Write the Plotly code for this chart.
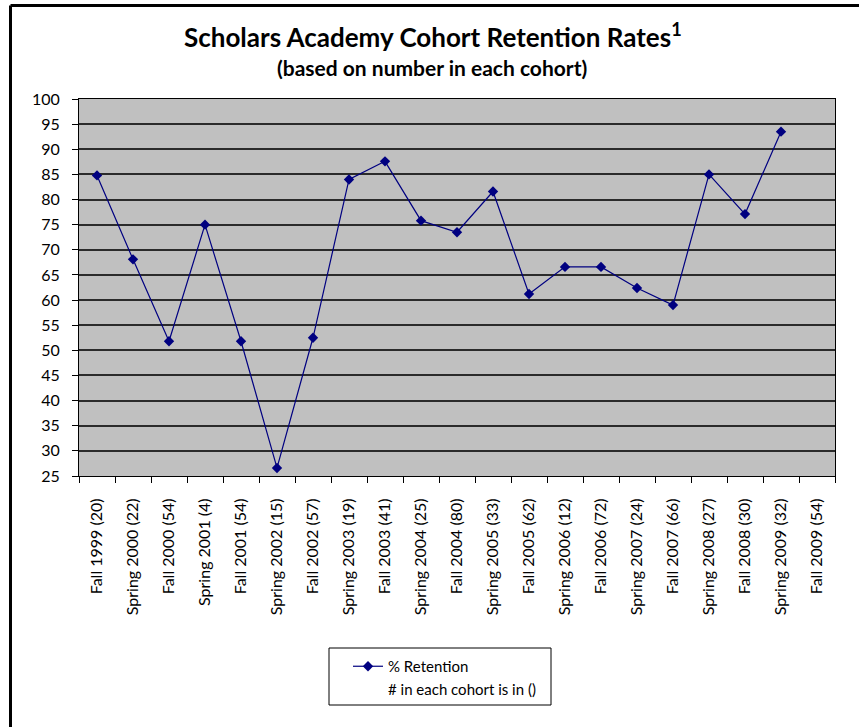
import plotly.graph_objects as go

categories = ["Fall 1999 (20)", "Spring 2000 (22)", "Fall 2000 (54)", "Spring 2001 (4)",
              "Fall 2001 (54)", "Spring 2002 (15)", "Fall 2002 (57)", "Spring 2003 (19)",
              "Fall 2003 (41)", "Spring 2004 (25)", "Fall 2004 (80)", "Spring 2005 (33)",
              "Fall 2005 (62)", "Spring 2006 (12)", "Fall 2006 (72)", "Spring 2007 (24)",
              "Fall 2007 (66)", "Spring 2008 (27)", "Fall 2008 (30)", "Spring 2009 (32)",
              "Fall 2009 (54)"]
retention = [84.8, 68.1, 51.8, 75.0, 51.8, 26.6, 52.5, 84.0, 87.6, 75.8, 73.5, 81.6,
             61.2, 66.6, 66.6, 62.4, 59.0, 85.0, 77.1, 93.5, None]
y_ticks = list(range(25, 101, 5))

FONT = "Lato, 'Open Sans', sans-serif"
L, R, T, B = 79, 835, 99, 476
W, H = 859, 727
pw, ph = R - L, B - T

def px_x(x):
    return (x - L) / pw

def px_y(y):
    return (B - y) / ph

fig = go.Figure()
fig.add_trace(go.Scatter(
    x=categories, y=retention, mode="lines+markers", name="% Retention",
    line=dict(color="#000080", width=1.2),
    marker=dict(symbol="diamond", size=8, color="#000080"),
    connectgaps=False,
))
fig.add_trace(go.Scatter(
    x=[None], y=[None], mode="lines", name="# in each cohort is in ()",
    line=dict(color="rgba(0,0,0,0)", width=0),
))

fig.update_layout(
    width=W, height=H,
    margin=dict(l=L, r=W - R, t=T, b=H - B),
    paper_bgcolor="white",
    plot_bgcolor="#C0C0C0",
    font=dict(family=FONT, size=15, color="black"),
    showlegend=True,
    legend=dict(
        x=px_x(348), y=px_y(650), xanchor="left", yanchor="top",
        bgcolor="rgba(0,0,0,0)", borderwidth=0,
        font=dict(family=FONT, size=15, color="black"),
        tracegroupgap=0, itemwidth=30,
    ),
    xaxis=dict(
        type="category", range=[-0.5, 20.5],
        tickangle=-90, tickson="boundaries", ticks="outside", ticklen=6,
        tickcolor="black", showline=True, linecolor="black", linewidth=1,
        mirror=True, showgrid=False, ticklabelstandoff=15,
        tickfont=dict(family=FONT, size=16, color="black"),
    ),
    yaxis=dict(
        range=[25, 100], tickvals=y_ticks, ticks="outside", ticklen=6,
        tickcolor="black", showline=True, linecolor="black", linewidth=1,
        mirror=True, showgrid=True, gridcolor="#2b2b2b", gridwidth=1.5,
        zeroline=False, ticklabelstandoff=9,
        tickfont=dict(family=FONT, size=16, color="black"),
    ),
    annotations=[
        dict(text="<b>Scholars Academy Cohort Retention Rates<sup>1</sup></b>",
             xref="paper", yref="paper", x=px_x(433), y=px_y(35),
             xanchor="center", yanchor="middle", showarrow=False,
             font=dict(family=FONT, size=26, color="black")),
        dict(text="<b>(based on number in each cohort)</b>",
             xref="paper", yref="paper", x=px_x(432), y=px_y(67),
             xanchor="center", yanchor="middle", showarrow=False,
             font=dict(family=FONT, size=21, color="black")),
    ],
    shapes=[
        # legend box
        dict(type="rect", xref="paper", yref="paper",
             x0=px_x(329), x1=px_x(551), y0=px_y(705), y1=px_y(648),
             line=dict(color="black", width=1), fillcolor="rgba(0,0,0,0)", layer="below"),
        # outer chart frame (left and top visible)
        dict(type="line", xref="paper", yref="paper",
             x0=px_x(10.5), x1=px_x(10.5), y0=px_y(740), y1=px_y(5.5),
             line=dict(color="black", width=3)),
        dict(type="line", xref="paper", yref="paper",
             x0=px_x(10.5), x1=px_x(870), y0=px_y(5.5), y1=px_y(5.5),
             line=dict(color="black", width=3)),
    ],
)

fig.write_html(
    "out.html",
    config={"displayModeBar": False},
    post_script="document.body.style.margin='0';document.body.style.overflow='hidden';",
)
